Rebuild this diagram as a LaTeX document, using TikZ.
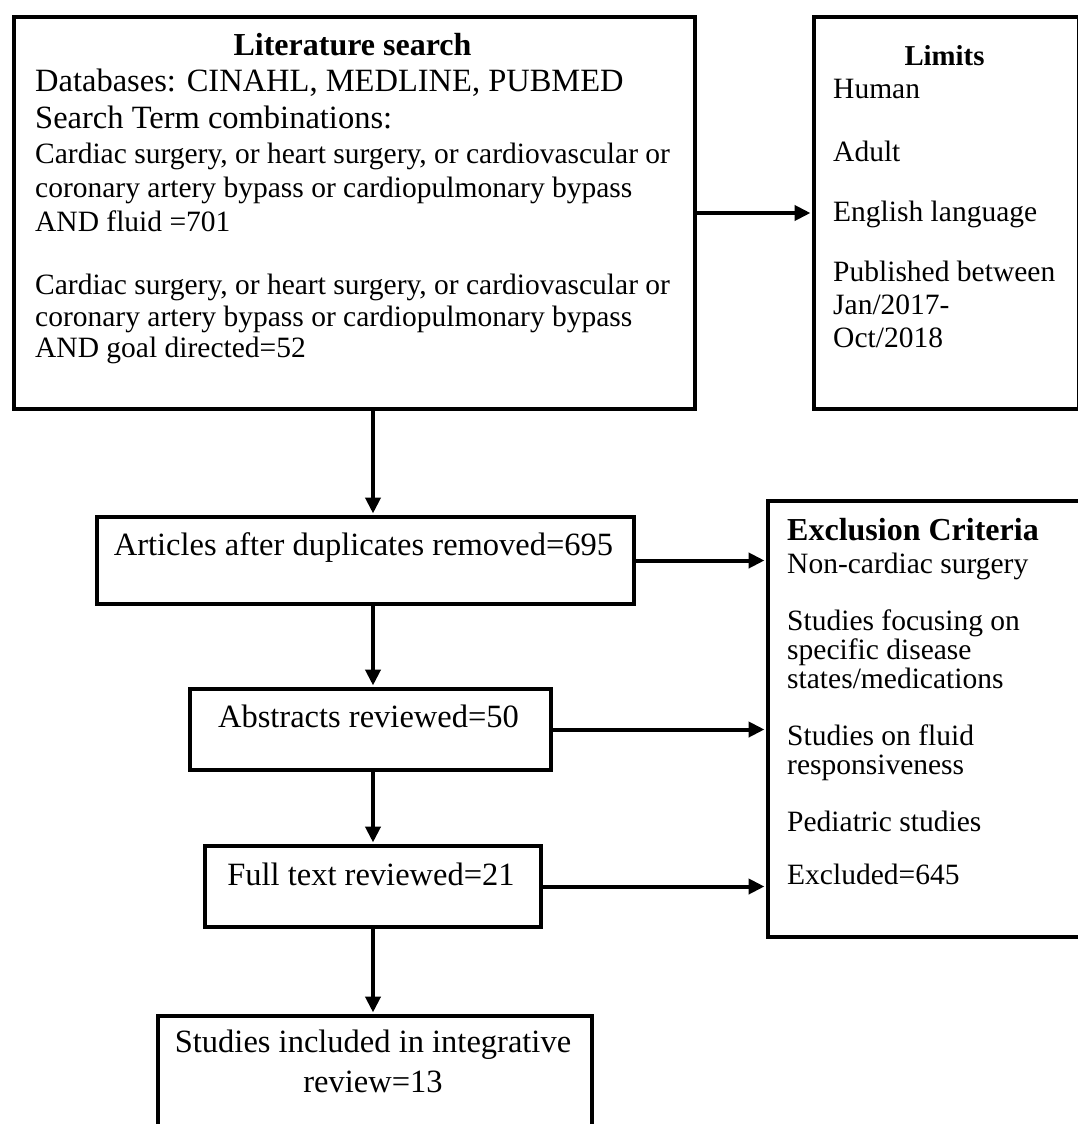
\documentclass[tikz,border=0pt]{standalone}
\usepackage{fontspec}
\setmainfont{Liberation Serif}
\usetikzlibrary{arrows.meta}
\begin{document}
\begin{tikzpicture}[x=1pt,y=-1pt,
  box/.style={draw, line width=4pt, inner sep=0pt, anchor=north west},
  arr/.style={line width=4pt, -{Triangle[length=16pt,width=15pt]}, shorten >=1.5pt},
  big/.style={font=\fontsize{32.5}{37}\selectfont, inner sep=0pt},
  sml/.style={font=\fontsize{29.5}{33}\selectfont, inner sep=0pt, anchor=base west},
  bigl/.style={big, anchor=base west},
  bigc/.style={big, anchor=base},
  ttl/.style={font=\fontsize{32}{37}\selectfont\bfseries, inner sep=0pt},
  ttls/.style={font=\fontsize{28.8}{33}\selectfont\bfseries, inner sep=0pt, anchor=base}]
\useasboundingbox (0,0) rectangle (1078,1124);
\fill[white] (0,0) rectangle (1078,1124);
% boxes
\node[box, minimum width=681pt, minimum height=392pt] (lit) at (12,15) {};
\node[box, minimum width=265pt, minimum height=392pt] (lim) at (812,15) {};
\node[box, minimum width=537pt, minimum height=87pt] (art) at (95,515) {};
\node[box, minimum width=316pt, minimum height=436pt] (exc) at (766,499) {};
\node[box, minimum width=361pt, minimum height=81pt] (abs) at (188,687) {};
\node[box, minimum width=336pt, minimum height=81pt] (ful) at (203,844) {};
\node[box, minimum width=434pt, minimum height=125pt] (fin) at (156,1014) {};
% literature text
\node[ttl, anchor=base] (lt0) at (352.5,56) {Literature search};
\node[bigl] (lt1) at (35,92) {Databases: CINAHL, MEDLINE, PUBMED};
\node[bigl] (lt2) at (35,128) {Search Term combinations:};
\node[sml] (lt3) at (35,163) {Cardiac surgery, or heart surgery, or cardiovascular or};
\node[sml] (lt4) at (35,197) {coronary artery bypass or cardiopulmonary bypass};
\node[sml] (lt5) at (35,231) {AND fluid =701};
\node[sml] (lt6) at (35,294) {Cardiac surgery, or heart surgery, or cardiovascular or};
\node[sml] (lt7) at (35,326) {coronary artery bypass or cardiopulmonary bypass};
\node[sml] (lt8) at (35,357) {AND goal directed=52};
% limits text
\node[ttls] (lm0) at (944.5,66) {Limits};
\node[sml] (lm1) at (833,99) {Human};
\node[sml] (lm2) at (833,161) {Adult};
\node[sml] (lm3) at (833,221) {English language};
\node[sml] (lm4) at (833,281) {Published between};
\node[sml] (lm5) at (833,314) {Jan/2017-};
\node[sml] (lm6) at (833,347) {Oct/2018};
% exclusion text
\node[ttl, anchor=base west] (ex0) at (787,540) {Exclusion Criteria};
\node[sml] (ex1) at (787,573) {Non-cardiac surgery};
\node[sml] (ex2) at (787,630) {Studies focusing on};
\node[sml] (ex3) at (787,659) {specific disease};
\node[sml] (ex4) at (787,688) {states/medications};
\node[sml] (ex5) at (787,745) {Studies on fluid};
\node[sml] (ex6) at (787,774) {responsiveness};
\node[sml] (ex7) at (787,831) {Pediatric studies};
\node[sml] (ex8) at (787,884) {Excluded=645};
% flow box text
\node[bigc] (at) at (363.5,555) {Articles after duplicates removed=695};
\node[bigc] (bt) at (368.5,727) {Abstracts reviewed=50};
\node[bigc] (ct) at (371,885) {Full text reviewed=21};
\node[bigc] (dt1) at (373,1052) {Studies included in integrative};
\node[bigc] (dt2) at (373,1092) {review=13};
% connectors
\coordinate (vx) at (373,0);
\draw[arr] (lit.east) -- (lim.west);
\draw[arr] (lit.south -| vx) -- (art.north -| vx);
\draw[arr] (art.south -| vx) -- (abs.north -| vx);
\draw[arr] (abs.south -| vx) -- (ful.north -| vx);
\draw[arr] (ful.south -| vx) -- (fin.north -| vx);
\draw[arr] (art.east) -- (art.east -| exc.west);
\draw[arr] (abs.east) -- (abs.east -| exc.west);
\draw[arr] (ful.east) -- (ful.east -| exc.west);
\end{tikzpicture}
\end{document}
